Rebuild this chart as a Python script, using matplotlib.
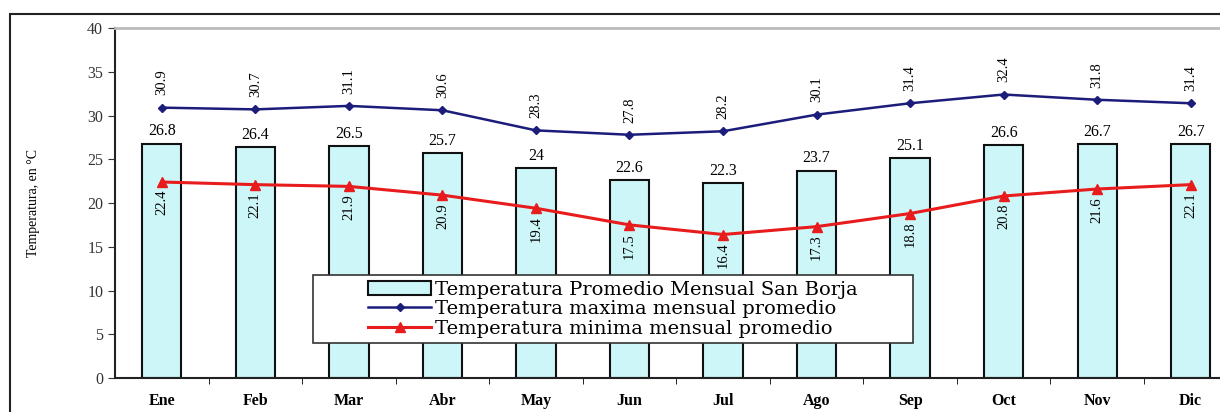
import matplotlib
matplotlib.use('Agg')
import matplotlib.pyplot as plt
from matplotlib.patches import Rectangle

############################################################
# Datos
############################################################

meses = ['Ene', 'Feb', 'Mar', 'Abr', 'May', 'Jun',
         'Jul', 'Ago', 'Sep', 'Oct', 'Nov', 'Dic']

t_promedio = [26.8, 26.4, 26.5, 25.7, 24.0, 22.6,
              22.3, 23.7, 25.1, 26.6, 26.7, 26.7]

t_maxima = [30.9, 30.7, 31.1, 30.6, 28.3, 27.8,
            28.2, 30.1, 31.4, 32.4, 31.8, 31.4]

t_minima = [22.4, 22.1, 21.9, 20.9, 19.4, 17.5,
            16.4, 17.3, 18.8, 20.8, 21.6, 22.1]

etiquetas = [
    'Temperatura Promedio Mensual San Borja',
    'Temperatura maxima mensual promedio',
    'Temperatura minima mensual promedio'
]

############################################################
# Figura
############################################################

plt.rcParams['font.family'] = ['Liberation Serif', 'DejaVu Serif']

fig = plt.figure(figsize=(12.2, 4.12), dpi=100)

ax = fig.add_axes([0.0943, 0.0825, 0.92, 0.8495])

# marco exterior
fig.patches.append(
    Rectangle((0.008, -0.2), 1.2, 1.166,
              transform=fig.transFigure, fill=False,
              edgecolor='#222222', linewidth=1.5, clip_on=False)
)

x = list(range(len(meses)))

barras = ax.bar(x, t_promedio, width=0.42, color='#cdf6f8',
                edgecolor='#111111', linewidth=1.5,
                label=etiquetas[0], zorder=2)

ax.plot(x, t_maxima, color='#1c1c7a', linewidth=1.8,
        marker='D', markersize=4.5, label=etiquetas[1], zorder=3)

ax.plot(x, t_minima, color='#e81c1c', linewidth=2.2,
        marker='^', markersize=7, label=etiquetas[2], zorder=3)

############################################################
# Etiquetas de valores
############################################################

for i in x:

    ax.text(i, t_promedio[i] + 0.5, f'{t_promedio[i]:g}',
            ha='center', va='bottom', fontsize=11.5, zorder=4)

    ax.text(i, t_maxima[i] + 1.4, f'{t_maxima[i]:.1f}',
            ha='center', va='bottom', rotation=90,
            fontsize=10.5, zorder=4)

    ax.text(i, t_minima[i] - 0.9, f'{t_minima[i]:.1f}',
            ha='center', va='top', rotation=90,
            fontsize=10.5, zorder=4)

############################################################
# Ejes
############################################################

ax.set_xlim(-0.5, 11.5)
ax.set_ylim(0, 40)

ax.set_yticks(range(0, 45, 5))
ax.tick_params(axis='y', direction='out', length=5,
               labelsize=11.5, colors='#333333')

ax.set_xticks(x)
ax.set_xticklabels(meses, fontsize=11.5, fontweight='bold')
ax.tick_params(axis='x', which='major', length=0, pad=11)

ax.set_xticks([i + 0.5 for i in x[:-1]], minor=True)
ax.tick_params(axis='x', which='minor', direction='out', length=4)

ax.set_ylabel('Temperatura, en °C', fontsize=10, labelpad=34)

ax.spines['top'].set_color('#bbbbbb')
ax.spines['top'].set_linewidth(2)
ax.spines['right'].set_visible(False)
ax.spines['left'].set_color('#222222')
ax.spines['left'].set_linewidth(1.5)
ax.spines['bottom'].set_color('#222222')
ax.spines['bottom'].set_linewidth(1.5)

############################################################
# Leyenda (caja dibujada aparte, contenido centrado)
############################################################

caja = Rectangle((0.176, 0.1), 0.535, 0.194, transform=ax.transAxes,
                 facecolor='white', edgecolor='#333333',
                 linewidth=1.2, zorder=5)
ax.add_patch(caja)

h, l = ax.get_legend_handles_labels()
orden = [2, 0, 1]

leg = ax.legend([h[k] for k in orden], [l[k] for k in orden],
                loc='center', bbox_to_anchor=(0.4435, 0.197),
                prop={'family': 'DejaVu Serif', 'size': 14},
                frameon=False, handlelength=3.2, borderpad=0.1,
                labelspacing=0.08, handletextpad=0.2)

leg.set_zorder(6)

fig.savefig('out.png', dpi=100)
